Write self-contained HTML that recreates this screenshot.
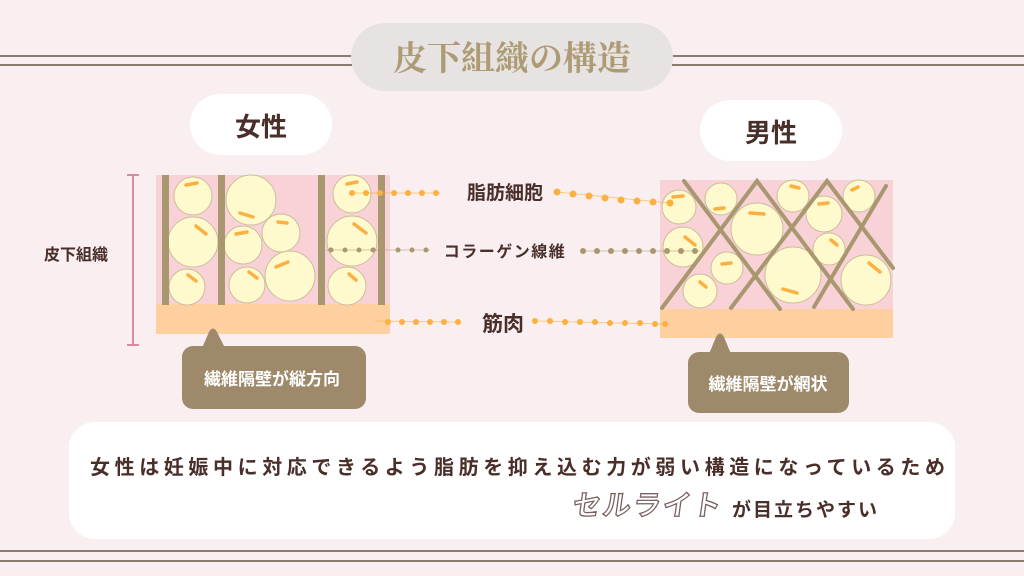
<!DOCTYPE html>
<html><head><meta charset="utf-8"><style>
html,body{margin:0;padding:0;background:#f9eff1;}
svg{display:block;font-family:"Liberation Sans","Noto Sans CJK JP",sans-serif;}
</style></head><body>
<svg width="1024" height="576" viewBox="0 0 1024 576" xmlns="http://www.w3.org/2000/svg">
<rect width="1024" height="576" fill="#f9eff1"/>
<g stroke="#8a7a70" stroke-width="2">
<line x1="0" y1="56" x2="352" y2="56"/><line x1="0" y1="65" x2="352" y2="65"/>
<line x1="672" y1="56" x2="1024" y2="56"/><line x1="672" y1="65" x2="1024" y2="65"/>
<line x1="0" y1="551" x2="1024" y2="551"/><line x1="0" y1="561" x2="1024" y2="561"/>
</g>
<rect x="351" y="23" width="322" height="68" rx="34" fill="#e7e3e3"/>
<text x="512" y="70" text-anchor="middle" font-family="'Noto Serif CJK SC','Liberation Serif',serif" font-size="34" font-weight="bold" fill="#ad9b74">皮下組織の構造</text>

<rect x="190" y="94" width="142" height="61" rx="30.5" fill="#fff"/>
<text x="261" y="136" text-anchor="middle" font-size="26" font-weight="bold" fill="#4a2e2a">女性</text>
<rect x="700" y="100" width="142" height="61" rx="30.5" fill="#fff"/>
<text x="771" y="142" text-anchor="middle" font-size="26" font-weight="bold" fill="#4a2e2a">男性</text>

<g stroke="#d88c9e" stroke-width="2"><line x1="133" y1="175" x2="133" y2="345"/><line x1="127" y1="175" x2="139" y2="175"/><line x1="127" y1="345" x2="139" y2="345"/></g>
<text x="76" y="260" text-anchor="middle" font-size="16" font-weight="bold" fill="#4a2e2a">皮下組織</text>

<rect x="156" y="175" width="234" height="131" fill="#f8d2d6"/>
<rect x="156" y="304" width="234" height="30" fill="#fecf9f"/>
<g fill="#fffacd" stroke="#cbbd9a" stroke-width="1">
<circle cx="193" cy="196" r="19"/><circle cx="193" cy="242" r="25"/><circle cx="187" cy="287" r="18"/>
<circle cx="251" cy="200" r="25"/><circle cx="243" cy="245" r="19"/><circle cx="247" cy="285" r="18"/>
<circle cx="281" cy="233" r="19"/><circle cx="290" cy="276" r="25"/>
<circle cx="352" cy="194" r="19"/><circle cx="352" cy="241" r="25"/><circle cx="347" cy="286" r="19"/>
</g>
<g stroke="#fbb041" stroke-width="3.5" stroke-linecap="round">
<line x1="186" y1="185" x2="197" y2="183"/><line x1="196" y1="226" x2="206" y2="234"/><line x1="188" y1="275" x2="196" y2="281"/>
<line x1="240" y1="213" x2="253" y2="217"/><line x1="236" y1="234" x2="247" y2="232"/><line x1="249" y1="272" x2="257" y2="278"/>
<line x1="278" y1="222" x2="287" y2="223"/><line x1="276" y1="267" x2="288" y2="262"/>
<line x1="347" y1="184" x2="357" y2="182"/><line x1="354" y1="224" x2="366" y2="233"/><line x1="349" y1="274" x2="356" y2="280"/>
</g>
<g fill="#a8976f"><rect x="162" y="175" width="7" height="130"/><rect x="218" y="175" width="7" height="130"/><rect x="318" y="175" width="7" height="130"/><rect x="378" y="175" width="7" height="130"/></g>

<rect x="660" y="180" width="233" height="130" fill="#f8d2d6"/>
<rect x="660" y="309" width="233" height="29" fill="#fecf9f"/>
<g fill="#fffacd" stroke="#cbbd9a" stroke-width="1">
<circle cx="679" cy="207" r="17"/><circle cx="721" cy="199" r="16"/><circle cx="757" cy="229" r="26"/>
<circle cx="793" cy="196" r="16"/><circle cx="824" cy="214" r="18"/><circle cx="859" cy="196" r="16"/>
<circle cx="683" cy="247" r="20"/><circle cx="727" cy="268" r="16"/><circle cx="700" cy="291" r="17"/>
<circle cx="793" cy="275" r="28"/><circle cx="829" cy="249" r="16"/><circle cx="866" cy="280" r="25"/>
</g>
<g stroke="#fbb041" stroke-width="3.5" stroke-linecap="round">
<line x1="673" y1="197" x2="683" y2="196"/><line x1="715" y1="209" x2="724" y2="208"/><line x1="750" y1="213" x2="764" y2="214"/>
<line x1="791" y1="186" x2="799" y2="188"/><line x1="819" y1="204" x2="828" y2="203"/><line x1="852" y1="190" x2="858" y2="187"/>
<line x1="685" y1="237" x2="695" y2="245"/><line x1="722" y1="264" x2="731" y2="263"/><line x1="700" y1="282" x2="706" y2="287"/>
<line x1="783" y1="289" x2="797" y2="293"/><line x1="831" y1="240" x2="837" y2="245"/><line x1="869" y1="263" x2="880" y2="272"/>
</g>
<g stroke="#a8976f" stroke-width="4" fill="none" stroke-linecap="round">
<polyline points="662,308 757,181 853,309"/>
<line x1="684" y1="181" x2="780" y2="309"/>
<polyline points="731,308 827,181 893,268"/>
<line x1="814" y1="307" x2="886" y2="186"/>
</g>

<g fill="#fbb041">
<circle cx="352" cy="193" r="3"/><circle cx="366" cy="193" r="3"/><circle cx="380" cy="193" r="3"/><circle cx="394" cy="193" r="3"/><circle cx="408" cy="193" r="3"/><circle cx="422" cy="193" r="3"/><circle cx="436" cy="193" r="3"/>
<circle cx="557" cy="192" r="3.5"/><circle cx="573" cy="194" r="3.5"/><circle cx="589" cy="196" r="3.5"/><circle cx="605" cy="198" r="3.5"/><circle cx="621" cy="200" r="3.5"/><circle cx="637" cy="201" r="3.5"/><circle cx="653" cy="202" r="3.5"/><circle cx="670" cy="203" r="3.5"/>
<circle cx="388" cy="322" r="3"/><circle cx="402" cy="322" r="3"/><circle cx="416" cy="322" r="3"/><circle cx="430" cy="322" r="3"/><circle cx="444" cy="322" r="3"/><circle cx="458" cy="322" r="3"/>
<circle cx="535" cy="321" r="3"/><circle cx="550" cy="321" r="3"/><circle cx="565" cy="322" r="3"/><circle cx="580" cy="322" r="3"/><circle cx="595" cy="322" r="3"/><circle cx="610" cy="323" r="3"/><circle cx="625" cy="323" r="3"/><circle cx="640" cy="323" r="3"/><circle cx="655" cy="324" r="3"/><circle cx="665" cy="324" r="3"/>
</g>
<g stroke="#fbb041" stroke-width="1" opacity="0.6"><line x1="352" y1="193" x2="440" y2="193"/><line x1="557" y1="192" x2="670" y2="203"/><line x1="375" y1="321" x2="460" y2="322"/><line x1="535" y1="321" x2="665" y2="324"/></g>
<g fill="#a8976f">
<circle cx="331" cy="250" r="2.5"/><circle cx="345" cy="250" r="2.5"/><circle cx="359" cy="250" r="2.5"/><circle cx="373" cy="250" r="2.5"/><circle cx="398" cy="250" r="2.5"/><circle cx="412" cy="250" r="2.5"/><circle cx="426" cy="250" r="2.5"/>
<circle cx="583" cy="251" r="3"/><circle cx="597" cy="251" r="3"/><circle cx="611" cy="251" r="3"/><circle cx="625" cy="251" r="3"/><circle cx="639" cy="251" r="3"/><circle cx="653" cy="251" r="3"/><circle cx="667" cy="251" r="3"/><circle cx="681" cy="251" r="3"/><circle cx="695" cy="251" r="3"/>
</g>
<g stroke="#a8976f" stroke-width="1" opacity="0.5"><line x1="326" y1="250" x2="430" y2="250"/><line x1="583" y1="251" x2="700" y2="251"/></g>
<text x="505" y="199" text-anchor="middle" font-size="19" font-weight="bold" fill="#4a2e2a">脂肪細胞</text>
<text x="505" y="257" text-anchor="middle" font-size="16" font-weight="bold" fill="#4a2e2a" letter-spacing="1.5">コラーゲン線維</text>
<text x="503" y="331" text-anchor="middle" font-size="21" font-weight="bold" fill="#4a2e2a">筋肉</text>

<g fill="#9e8a6b">
<rect x="182" y="346" width="184" height="63" rx="11"/>
<path d="M202,348 L209,332 Q213,325 217,332 L225,348 Z"/>
<rect x="688" y="352" width="161" height="61" rx="11"/>
<path d="M709,354 L716,337 Q720,330 724,337 L731,354 Z"/>
</g>
<text x="272" y="385" text-anchor="middle" font-size="17" font-weight="bold" fill="#fff">繊維隔壁が縦方向</text>
<text x="768" y="390" text-anchor="middle" font-size="17" font-weight="bold" fill="#fff">繊維隔壁が網状</text>

<rect x="69" y="422" width="886" height="117" rx="26" fill="#fff"/>
<text x="90" y="474" font-size="20" font-weight="bold" fill="#4a2e2a" textLength="855" lengthAdjust="spacing">女性は妊娠中に対応できるよう脂肪を抑え込む力が弱い構造になっているため</text>
<text x="572" y="515" font-size="28" fill="#fff" stroke="#7a6060" stroke-width="1.3" font-weight="bold" textLength="148" lengthAdjust="spacing" transform="skewX(-8) translate(72,0)">セルライト</text>
<text x="732" y="516" font-size="19" font-weight="bold" fill="#4a2e2a" letter-spacing="2">が目立ちやすい</text>
</svg>
</body></html>
